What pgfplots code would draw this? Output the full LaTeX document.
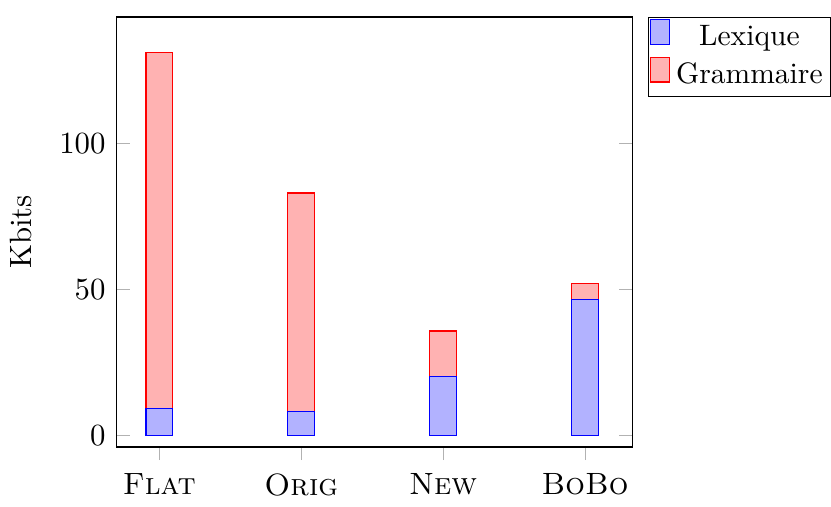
\documentclass[border=0pt]{standalone}
\usepackage{pgfplots}
\pgfplotsset{compat=1.18}
\begin{document}
\begin{tikzpicture}
\begin{axis}[
  scale only axis,
  width=167.6pt, height=139.6pt,
  ybar stacked,
  bar width=0.19,
  xmin=-0.303, xmax=3.335,
  ymin=-4, ymax=143.5,
  xtick={0,1,2,3},
  xticklabels={\textsc{Flat},\textsc{Orig},\textsc{New},\textsc{BoBo}},
  ytick={0,50,100},
  xtick pos=bottom, xtick align=outside,
  ytick align=inside,
  ylabel={Kbits},
  ylabel style={yshift=2pt},
  xticklabel style={yshift=-0.8pt},
  legend style={at={(1.03,1)}, anchor=north west, draw=black, inner sep=0.5pt, row sep=0pt,
    font=\fontsize{9.6pt}{12pt}\selectfont},
  legend cell align=center,
  tick style={gray!60},
]
\addplot[draw=blue, fill=blue!30] coordinates {(0,9.3) (1,8.1) (2,20.1) (3,46.7)};
\addplot[draw=red, fill=red!30] coordinates {(0,122.0) (1,75.0) (2,15.7) (3,5.3)};
\legend{Lexique,Grammaire}
\end{axis}
\path (current axis.north west) ++(0,5.5pt);
\end{tikzpicture}
\end{document}
